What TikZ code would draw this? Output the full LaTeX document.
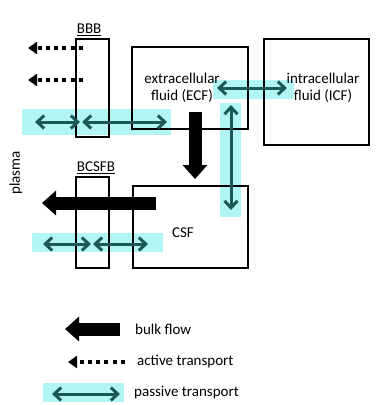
\documentclass[tikz,border=0pt]{standalone}
\usepackage{fontspec}
\setmainfont{Carlito}
\usepackage{xcolor}
\usetikzlibrary{positioning,arrows.meta}
\definecolor{passteal}{RGB}{28,88,88}
\definecolor{passband}{RGB}{178,245,245}

\begin{document}
\begin{tikzpicture}[x=1pt, y=-1pt, font=\fontsize{15}{17}\selectfont,
  box/.style={draw, line width=2.6pt, inner sep=0pt},
  lbl/.style={align=center, inner sep=0pt},
  band/.style={fill=passband},
  bulk/.style={line width=13pt, -{Triangle[length=14pt,width=24pt]}},
  active/.style={line width=4.5pt, dash pattern=on 4pt off 4.3pt, -{Triangle[length=9pt,width=12pt]}},
  passive/.style={line width=3pt, draw=passteal, {Straight Barb[length=7pt,width=13pt]}-{Straight Barb[length=7pt,width=13pt]}}]

\useasboundingbox (0,0) rectangle (380,405);

% passive transport bands
\fill[band] (22,109) rectangle (171,135);
\fill[band] (213,80) rectangle (294,99);
\fill[band] (220,103) rectangle (241,217);
\fill[band] (32,233) rectangle (163,252);
\fill[band] (43,383) rectangle (124,402);

% compartments and barriers
\node[box, minimum width=116pt, minimum height=82pt] (ecf) at (190,88) {};
\node[box, minimum width=105pt, minimum height=106pt] (icf) at (316.5,92) {};
\node[box, minimum width=115pt, minimum height=82pt] (csf) at (190.5,227) {};
\node[box, minimum width=33pt, minimum height=98pt] (bbb) at (92.5,88) {};
\node[box, minimum width=33pt, minimum height=91pt] (bcsfb) at (92.5,222.5) {};

\node[lbl] (ecflbl) at (182,88) {extracellular\\fluid (ECF)};
\node[lbl] (icflbl) at (323,88) {intracellular\\fluid (ICF)};
\node[lbl] (csflbl) at (183,233) {CSF};
\node[lbl] (bbblbl) [above right=2pt and 2pt of bbb.north west] {\underline{BBB}};
\node[lbl] (bcsfblbl) [above right=2pt and 2pt of bcsfb.north west] {\underline{BCSFB}};
\node[lbl, rotate=90] (plasma) at (16,173) {plasma};

% arrow ends
\coordinate (a1s) at (83,48);  \coordinate (a1e) at (28,48);
\coordinate (a2s) at (83,80);  \coordinate (a2e) at (28,80);
\coordinate (p1a) at (35,122); \coordinate (p1b) at (80,122);
\coordinate (p2a) at (82,122); \coordinate (p2b) at (167,122);
\coordinate (p3a) at (217,88); \coordinate (p3b) at (287,88);
\coordinate (p4a) at (231,105); \coordinate (p4b) at (231,210);
\coordinate (p5a) at (43,244); \coordinate (p5b) at (91,244);
\coordinate (p6a) at (93,244); \coordinate (p6b) at (148,244);
\coordinate (b1s) at (195,112); \coordinate (b1e) at (195,179);
\coordinate (b2s) at (156,203); \coordinate (b2e) at (42,203);

\path
    (a1s) edge[active] (a1e)
    (a2s) edge[active] (a2e)
    (b1s) edge[bulk] (b1e)
    (b2s) edge[bulk] (b2e)
    (p1a) edge[passive] (p1b)
    (p2a) edge[passive] (p2b)
    (p3a) edge[passive] (p3b)
    (p4a) edge[passive] (p4b)
    (p5a) edge[passive] (p5b)
    (p6a) edge[passive] (p6b);

% legend
\coordinate (lb1) at (120,329); \coordinate (lb2) at (65,329);
\coordinate (la1) at (125,362); \coordinate (la2) at (68,362);
\coordinate (lp1) at (52,394);  \coordinate (lp2) at (120,394);
\node[lbl, anchor=west] (bulklbl) at (135,329) {bulk flow};
\node[lbl, anchor=west] (activelbl) at (137,362) {active transport};
\node[lbl, anchor=west] (passivelbl) at (134,393) {passive transport};

\path
    (lb1) edge[bulk] (lb2)
    (la1) edge[active] (la2)
    (lp1) edge[passive] (lp2);
\end{tikzpicture}
\end{document}
